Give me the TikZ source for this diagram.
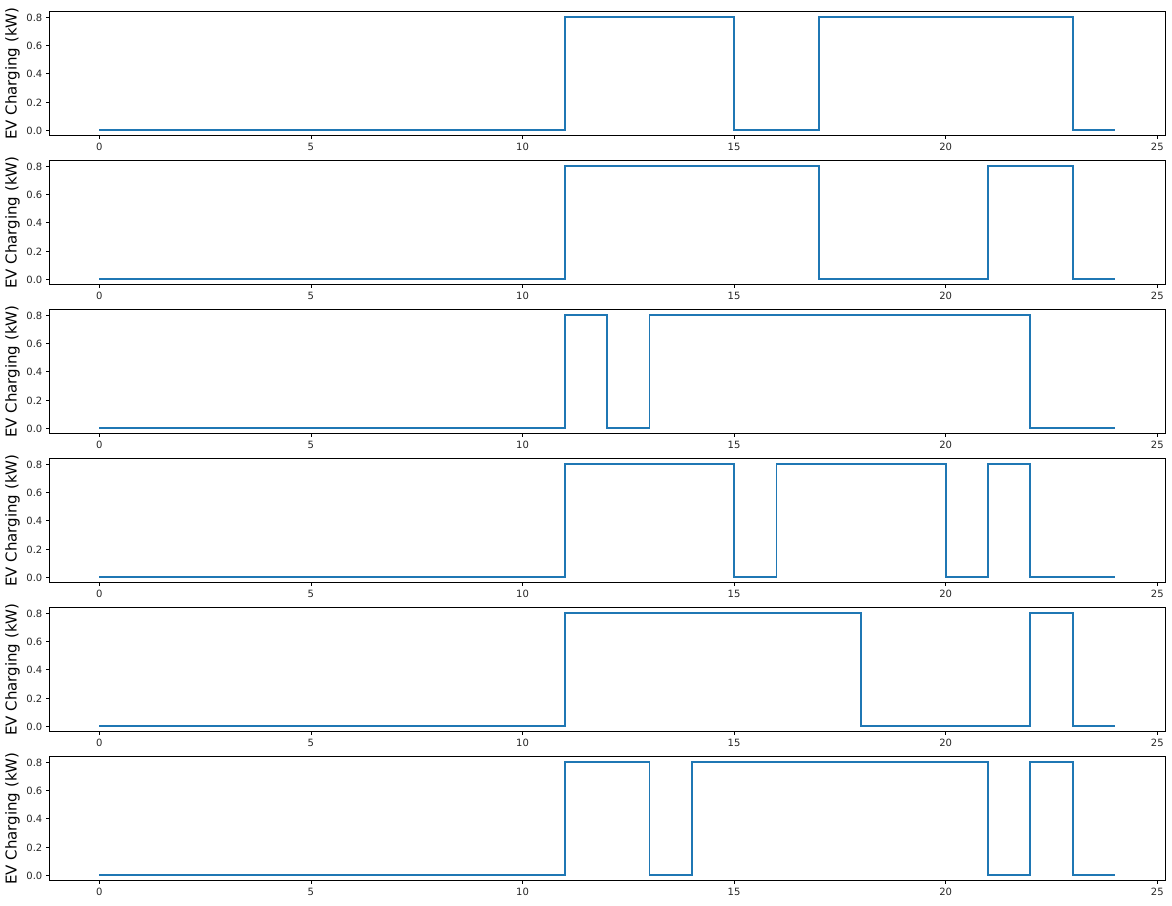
\documentclass[tikz,border=0pt]{standalone}
\usepackage{fontspec}
\setmainfont{DejaVu Sans}
\definecolor{mplblue}{HTML}{1F77B4}
\tikzset{
  frame/.style={draw=black, line width=0.8pt},
  tickmark/.style={draw=black, line width=0.8pt},
  xlab/.style={anchor=north, inner sep=0pt, font=\fontsize{10}{12}\selectfont, text=black!85},
  ylab/.style={anchor=east, inner sep=0pt, font=\fontsize{10}{12}\selectfont, text=black!85},
  axlab/.style={rotate=90, inner sep=0pt, font=\fontsize{15}{18}\selectfont, text=black},
  series/.style={draw=mplblue, line width=1.8pt, line join=miter}
}
\begin{document}
\begin{tikzpicture}[x=1pt,y=1pt]
\useasboundingbox[fill=white] (0,0) rectangle (1172,-905);
\foreach \i/\steps in {
  0/{(0,0) -| (11,0.8) -| (15,0) -| (17,0.8) -| (23,0) -- (24,0)},
  1/{(0,0) -| (11,0.8) -| (17,0) -| (21,0.8) -| (23,0) -- (24,0)},
  2/{(0,0) -| (11,0.8) -| (12,0) -| (13,0.8) -| (22,0) -- (24,0)},
  3/{(0,0) -| (11,0.8) -| (15,0) -| (16,0.8) -| (20,0) -| (21,0.8) -| (22,0) -- (24,0)},
  4/{(0,0) -| (11,0.8) -| (18,0) -| (22,0.8) -| (23,0) -- (24,0)},
  5/{(0,0) -| (11,0.8) -| (13,0) -| (14,0.8) -| (21,0) -| (22,0.8) -| (23,0) -- (24,0)}} {
  \pgfmathsetmacro\T{11.7+149*\i}
  \pgfmathsetmacro\B{\T+124}
  % frame
  \draw[frame] (49.5,-\T) rectangle (1165,-\B);
  % x ticks
  \foreach \t in {0,5,...,25} {
    \pgfmathsetmacro\px{99.3+42.32*\t}
    \draw[tickmark] (\px,-\B) -- (\px,-\B-3.5);
    \node[xlab] (xt-\i-\t) at (\px,-\B-7.2) {\t};
  }
  % y ticks
  \foreach \v/\lab in {0/0.0,2/0.2,4/0.4,6/0.6,8/0.8} {
    \pgfmathsetmacro\py{\T+118.4-14.09*\v}
    \draw[tickmark] (49.5,-\py) -- (46,-\py);
    \node[ylab] (yt-\i-\v) at (42.5,-\py-0.6) {\lab};
  }
  \node[axlab] (yl-\i) at (12.5,-\T-62) {EV Charging (kW)};
  % data
  \begin{scope}[x=42.32pt, y=140.9pt, shift={(99.3pt,{-(\T+118.4)*1pt})}]
    \draw[series] \steps;
  \end{scope}
}
\end{tikzpicture}
\end{document}
